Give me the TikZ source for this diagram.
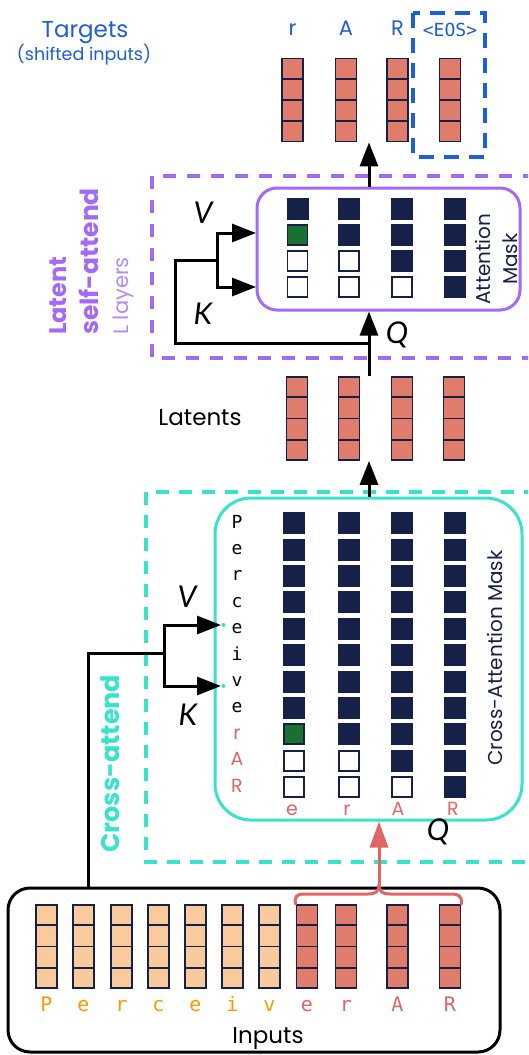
\documentclass[tikz,border=0pt]{standalone}
\usepackage{fontspec}
\setmainfont{Poppins}
\newfontfamily\monofont{DejaVu Sans Mono}
\newfontfamily\qkvfont{Lato}
\usetikzlibrary{arrows.meta,calc}

\definecolor{navy}{HTML}{16214A}
\definecolor{salmoncell}{HTML}{DF7C6B}
\definecolor{peach}{HTML}{F9CB9C}
\definecolor{maskgreen}{HTML}{187033}
\definecolor{purpleA}{HTML}{A46AF7}
\definecolor{purpleB}{HTML}{B68CF4}
\definecolor{tealA}{HTML}{38E2CB}
\definecolor{blueA}{HTML}{1D5FD6}
\definecolor{salmontext}{HTML}{E06666}
\definecolor{orangeA}{HTML}{FF9900}

% one token embedding: a column of four cells
\newcommand\tokencol[4]{%
  \node[tokcol, fill=#4] (#1) at (#2,#3) {};
  \foreach \f in {0.25,0.5,0.75}
    \draw[cellline] ($(#1.north west)!\f!(#1.south west)$) -- ($(#1.north east)!\f!(#1.south east)$);
}

\begin{document}
\begin{tikzpicture}[x=1pt,y=-1pt,
  tokcol/.style={draw=navy, line width=1.8pt, inner sep=0pt, minimum width=21pt, minimum height=83pt},
  cellline/.style={navy, line width=1.8pt},
  maskon/.style={draw=navy, fill=navy, line width=0.8pt, inner sep=0pt, minimum size=21pt},
  maskoff/.style={draw=navy, fill=white, line width=1.8pt, inner sep=0pt, minimum size=20pt},
  maskhit/.style={draw=navy, fill=maskgreen, line width=1.8pt, inner sep=0pt, minimum size=20pt},
  wire/.style={line width=3pt},
  flow/.style={line width=3pt, -{Triangle[length=24pt,width=18pt]}},
  redflow/.style={salmontext, line width=3pt, -{Triangle[length=26pt,width=18pt]}},
  bracepen/.style={salmontext, line width=3pt, line cap=round},
  qkv/.style={font=\qkvfont\itshape\fontsize{30}{30}\selectfont, anchor=base, inner sep=0pt},
  keylabel/.style={font=\monofont\fontsize{18}{18}\selectfont, anchor=base, inner sep=0pt},
  keyhot/.style={font=\fontsize{19}{19}\selectfont, text=salmontext, anchor=base, inner sep=0pt},
  inlabel/.style={font=\monofont\fontsize{20}{20}\selectfont, anchor=base, inner sep=0pt},
  tgtlabel/.style={font=\fontsize{21}{21}\selectfont, text=blueA, anchor=base, inner sep=0pt},
  sidelabel/.style={rotate=90, anchor=base west, inner sep=0pt},
]
\useasboundingbox (0,0) rectangle (528,1055);
\clip (0,0) rectangle (528,1055);
\fill[white] (0,0) rectangle (528,1055);

% ---------- group frames ----------
\draw[purpleA, line width=3.5pt, dash pattern=on 13pt off 11pt] (560,176) -- (152,176) -- (152,358) -- (560,358);
\draw[tealA, line width=3.5pt, dash pattern=on 13pt off 10pt] (560,492) -- (146,492) -- (146,862) -- (560,862);
\draw[blueA, line width=3.5pt, dash pattern=on 15pt off 10pt] (413,13) rectangle (485,157);

\node[sidelabel, text=purpleA, font=\bfseries\fontsize{24}{24}\selectfont] (latname) at (66,335) {Latent};
\node[sidelabel, text=purpleA, font=\bfseries\fontsize{25}{25}\selectfont] (latname2) at (98,335) {self-attend};
\node[sidelabel, text=purpleB, font=\fontsize{21}{21}\selectfont] (latlayers) at (128,335) {L layers};
\node[sidelabel, text=tealA, font=\bfseries\fontsize{25.5}{25.5}\selectfont] (crossname) at (119,853) {Cross-attend};

% ---------- targets ----------
\node[anchor=base, text=blueA, font=\fontsize{23}{23}\selectfont, inner sep=0pt] (tgtname) at (85,37) {Targets};
\node[anchor=base, text=blueA, font=\fontsize{17.5}{17.5}\selectfont, inner sep=0pt] (tgtsub) at (84,60) {(shifted inputs)};
\foreach \i/\x in {1/292.5, 2/346, 3/397.5, 4/450} {\tokencol{tgt\i}{\x}{100}{salmoncell}}
\node[tgtlabel] (tl1) at (292.5,35) {r};
\node[tgtlabel] (tl2) at (346,35) {A};
\node[tgtlabel] (tl3) at (397.5,35) {R};
\node[tgtlabel, font=\monofont\fontsize{18}{18}\selectfont] (tl4) at (450,36) {<EOS>};

% ---------- latent self-attention ----------
\node[draw=purpleA, line width=3pt, rounded corners=20pt, minimum width=263pt, minimum height=122pt, inner sep=0pt] (latbox) at (388.5,249) {};
\foreach \r in {1,...,4}{
  \foreach \c in {1,...,4}{
    \pgfmathsetmacro\mx{{297.5,349,402,454.5}[\c-1]}
    \pgfmathsetmacro\my{209+26*(\r-1)}
    \ifnum\c<\r \ifnum\r=2 \def\st{maskhit}\else\def\st{maskoff}\fi\else\def\st{maskon}\fi
    \node[\st] (lm-\r-\c) at (\mx,\my) {};
  }
}
\node[rotate=90, anchor=base, text=navy, font=\fontsize{20}{20}\selectfont, inner sep=0pt] (latmask1) at (490,259) {Attention};
\node[rotate=90, anchor=base, text=navy, font=\fontsize{20}{20}\selectfont, inner sep=0pt] (latmask2) at (517,259) {Mask};

% ---------- latents ----------
\foreach \i/\x in {1/297, 2/349, 3/402, 4/454} {\tokencol{lat\i}{\x}{418.5}{salmoncell}}
\node[anchor=base, font=\fontsize{23}{23}\selectfont, inner sep=0pt] (latentsname) at (200,425) {Latents};

% ---------- cross-attention ----------
\node[draw=tealA, line width=3pt, rounded corners=36pt, minimum width=307pt, minimum height=322pt, inner sep=0pt] (crossbox) at (368.5,659) {};
\foreach \r in {1,...,11}{
  \foreach \c in {1,...,4}{
    \pgfmathsetmacro\mx{{294,349,402,454.5}[\c-1]}
    \pgfmathsetmacro\my{523+26.4*(\r-1)}
    \pgfmathtruncatemacro\rr{\r-7}
    \ifnum\c<\rr \ifnum\rr=2 \def\st{maskhit}\else\def\st{maskoff}\fi\else\def\st{maskon}\fi
    \node[\st] (cm-\r-\c) at (\mx,\my) {};
  }
}
\foreach \r/\ch/\kind in {1/P/keylabel, 2/e/keylabel, 3/r/keylabel, 4/c/keylabel, 5/e/keylabel, 6/i/keylabel, 7/v/keylabel, 8/e/keylabel, 9/r/keyhot, 10/A/keyhot, 11/R/keyhot}{
  \pgfmathsetmacro\my{528+26.4*(\r-1)}
  \node[\kind] (key\r) at (237,\my) {\ch};
}
\node[keyhot] (qry1) at (292,815) {e};
\node[keyhot] (qry2) at (347,815) {r};
\node[keyhot] (qry3) at (398,815) {A};
\node[keyhot] (qry4) at (453,815) {R};
\node[rotate=90, anchor=base, text=navy, font=\fontsize{20}{20}\selectfont, inner sep=0pt] (crossmask) at (502,658) {Cross-Attention Mask};

% ---------- inputs ----------
\node[draw=black, line width=3pt, rounded corners=22pt, minimum width=492pt, minimum height=164pt, inner sep=0pt] (inbox) at (254,970) {};
\foreach \i/\x/\col in {1/46.5/peach, 2/83.5/peach, 3/121.5/peach, 4/158.5/peach, 5/195.5/peach, 6/232.5/peach, 7/269.5/peach, 8/307/salmoncell, 9/346/salmoncell, 10/397.5/salmoncell, 11/450/salmoncell}
  {\tokencol{in\i}{\x}{946.5}{\col}}
\foreach \i/\ch/\col in {1/P/orangeA, 2/e/orangeA, 3/r/orangeA, 4/c/orangeA, 5/e/orangeA, 6/i/orangeA, 7/v/orangeA, 8/e/salmontext, 9/r/salmontext, 10/A/salmontext, 11/R/salmontext}
  {\node[inlabel, text=\col] (inl\i) at (in\i.center |- 0,1011) {\ch};}
\node[anchor=base, font=\fontsize{23}{23}\selectfont, inner sep=0pt] (inname) at (268,1043) {Inputs};

% ---------- connectors ----------
\coordinate (axis) at (369,0);
% cross-attention output feeds the latents, latents feed the self-attention, which feeds the targets
\draw[flow] (axis |- crossbox.north) -- (axis |- lat2.south);
\draw[flow] (axis |- lat2.north) -- (axis |- latbox.south);
\draw[flow] (axis |- latbox.north) -- (axis |- tgt2.south);
\node[qkv] (qlat) at (397,343) {Q};

% keys/values for the latent self-attention
\coordinate (ltap) at (369,343);
\coordinate (lfork) at (217,260);
\coordinate (lV) at (256,233);
\coordinate (lK) at (256,287);
\draw[wire] (ltap) -- (175,343) -- (175,260) -- (lfork);
\draw[flow] (lfork) |- (lV);
\draw[flow] (lfork) |- (lK);
\node[qkv] (vlat) at (203,223) {V};
\node[qkv] (klat) at (203,324) {K};

% keys/values for the cross-attention come from all inputs
\coordinate (cxtrunk) at (88,653);
\coordinate (cxfork) at (164,653);
\coordinate (cxV) at (221,625);
\coordinate (cxK) at (221,686);
\draw[wire] (cxtrunk |- inbox.north) -- (cxtrunk) -- (cxfork);
\draw[flow] (cxfork) |- (cxV);
\draw[flow] (cxfork) |- (cxK);
\fill[tealA] ($(cxV)+(2.5,0)$) circle (2pt);
\fill[tealA] ($(cxK)+(2.5,0)$) circle (2pt);
\node[qkv] (vcross) at (187,607) {V};
\node[qkv] (kcross) at (188,725) {K};

% queries for the cross-attention: the last inputs
\coordinate (bracetip) at (379,885);
\draw[bracepen] (in8.north west |- 0,904) .. controls (294,896) and (297,894) .. (305,894) -- (368,894) .. controls (375,894) and (379,892) .. (bracetip);
\draw[bracepen] (in11.north east |- 0,904) .. controls (462,896) and (459,894) .. (451,894) -- (390,894) .. controls (383,894) and (379,892) .. (bracetip);
\draw[redflow] (bracetip) -- (bracetip |- crossbox.south);
\node[qkv] (qcross) at (438,840) {Q};
\end{tikzpicture}
\end{document}
